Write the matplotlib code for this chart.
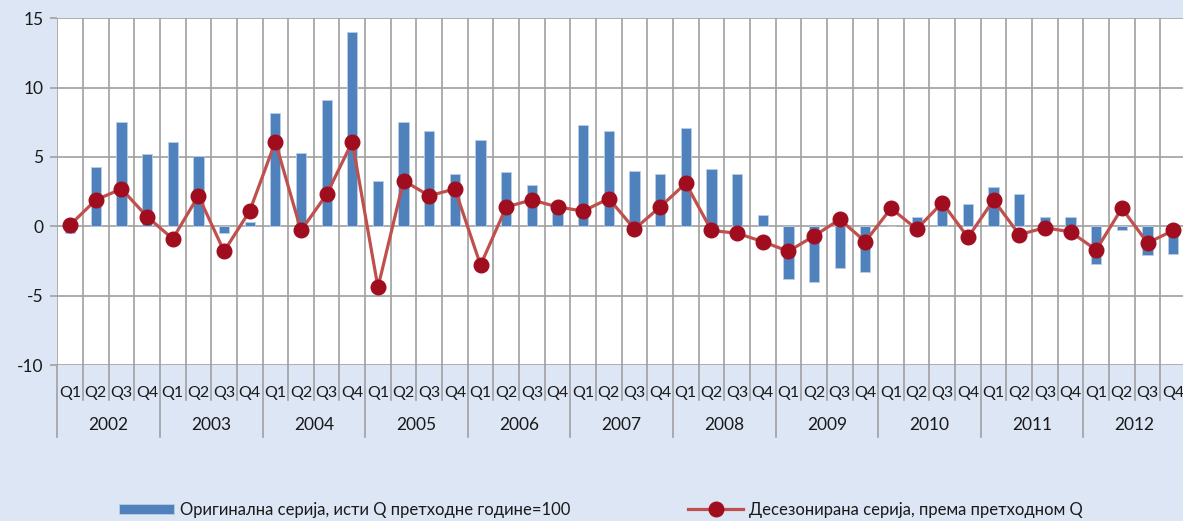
import numpy as np
import matplotlib
matplotlib.use('Agg')
import matplotlib.pyplot as plt
import matplotlib.transforms as mtransforms
from matplotlib.lines import Line2D
from matplotlib.patches import Patch

# data
years = ['2002', '2003', '2004', '2005', '2006', '2007', '2008', '2009', '2010', '2011', '2012']
quarters = ['Q1', 'Q2', 'Q3', 'Q4']

original = [-0.5, 4.3, 7.5, 5.2,
            6.1, 5.1, -0.5, 0.3,
            8.2, 5.3, 9.1, 14.0,
            3.3, 7.5, 6.9, 3.8,
            6.2, 3.9, 3.0, 1.5,
            7.3, 6.9, 4.0, 3.8,
            7.1, 4.1, 3.8, 0.8,
            -3.8, -4.0, -3.0, -3.3,
            0.0, 0.7, 1.4, 1.6,
            2.8, 2.3, 0.7, 0.7,
            -2.7, -0.3, -2.1, -2.0]
seasonal = [0.1, 1.9, 2.7, 0.7,
            -0.9, 2.2, -1.8, 1.1,
            6.1, -0.3, 2.3, 6.1,
            -4.4, 3.3, 2.2, 2.7,
            -2.8, 1.4, 1.9, 1.4,
            1.1, 2.0, -0.2, 1.4,
            3.1, -0.3, -0.5, -1.1,
            -1.8, -0.7, 0.5, -1.1,
            1.3, -0.2, 1.7, -0.8,
            1.9, -0.6, -0.1, -0.4,
            -1.7, 1.3, -1.2, -0.3]

label_bar = 'Оригинална серија, исти Q претходне године=100'
label_line = 'Десезонирана серија, према претходном Q'

bg = '#dce6f4'
grid_c = '#a0a0a0'
bar_c = '#4f81bd'
line_c = '#c0504d'
mark_c = '#a00d1f'
txt_c = '#1a1a1a'

plt.rcParams['font.family'] = ['Lato', 'DejaVu Sans']
plt.rcParams['axes.unicode_minus'] = False

n = len(original)
x = np.arange(n)
q_labels = quarters * len(years)

fig = plt.figure(figsize=(11.83, 5.21), dpi=100, facecolor=bg)
ax = fig.add_axes([57.3 / 1183, 1 - 365 / 521, (1186 - 57.3) / 1183, (365 - 18.3) / 521])
ax.set_facecolor('white')

ax.set_xlim(-0.5, n - 0.5)
ax.set_ylim(-10, 15)
ax.set_yticks([-10, -5, 0, 5, 10, 15])
ax.yaxis.grid(True, color=grid_c, linewidth=1.2, zorder=0)
for b in np.arange(-0.5, n, 1.0):
    ax.axvline(b, color=grid_c, linewidth=1.2, zorder=0)

ax.bar(x, original, width=0.4, color=bar_c, edgecolor='#b9cde5', linewidth=0.6, zorder=2)
ax.plot(x, seasonal, color=line_c, linewidth=2.3, marker='o', markersize=10.5,
        markerfacecolor=mark_c, markeredgecolor=mark_c, zorder=3)

for s in ax.spines.values():
    s.set_visible(False)

ax.tick_params(axis='y', length=5, width=1.2, color=grid_c, labelsize=12.5, labelcolor=txt_c, pad=5)
ax.set_xticks(x)
ax.set_xticklabels(q_labels)
ax.tick_params(axis='x', length=0, labelsize=11.5, labelcolor=txt_c, pad=15)

# category separators below the plot
trans = mtransforms.blended_transform_factory(ax.transData, ax.transAxes)
h = 365 - 18.3
q_bottom = -(400 - 365) / h
y_bottom = -(437 - 365) / h
for i in range(n + 1):
    b = i - 0.5
    low = y_bottom if i % 4 == 0 else q_bottom
    ax.add_line(Line2D([b, b], [0, low], transform=trans, color=grid_c,
                       linewidth=1.2, clip_on=False))
for k, yr in enumerate(years):
    ax.text(4 * k + 1.5, -(425 - 365) / h, yr, transform=trans, ha='center', va='center',
            fontsize=12.5, color=txt_c)

# legend
fy = 1 - 510 / 521
fig.legend(handles=[Patch(facecolor=bar_c, edgecolor='#b9cde5', linewidth=0.6)], labels=[label_bar],
           loc='center left', bbox_to_anchor=(119 / 1183, fy), frameon=False, fontsize=12,
           handlelength=3.3, handleheight=0.55, handletextpad=0.35, borderpad=0, borderaxespad=0,
           labelcolor=txt_c)
fig.legend(handles=[Line2D([], [], color=line_c, linewidth=2.3, marker='o', markersize=10.5,
                           markerfacecolor=mark_c, markeredgecolor=mark_c)], labels=[label_line],
           loc='center left', bbox_to_anchor=(688 / 1183, fy), frameon=False, fontsize=12,
           handlelength=3.3, handletextpad=0.35, borderpad=0, borderaxespad=0,
           labelcolor=txt_c)

fig.savefig('out.png', dpi=100, facecolor=bg)
